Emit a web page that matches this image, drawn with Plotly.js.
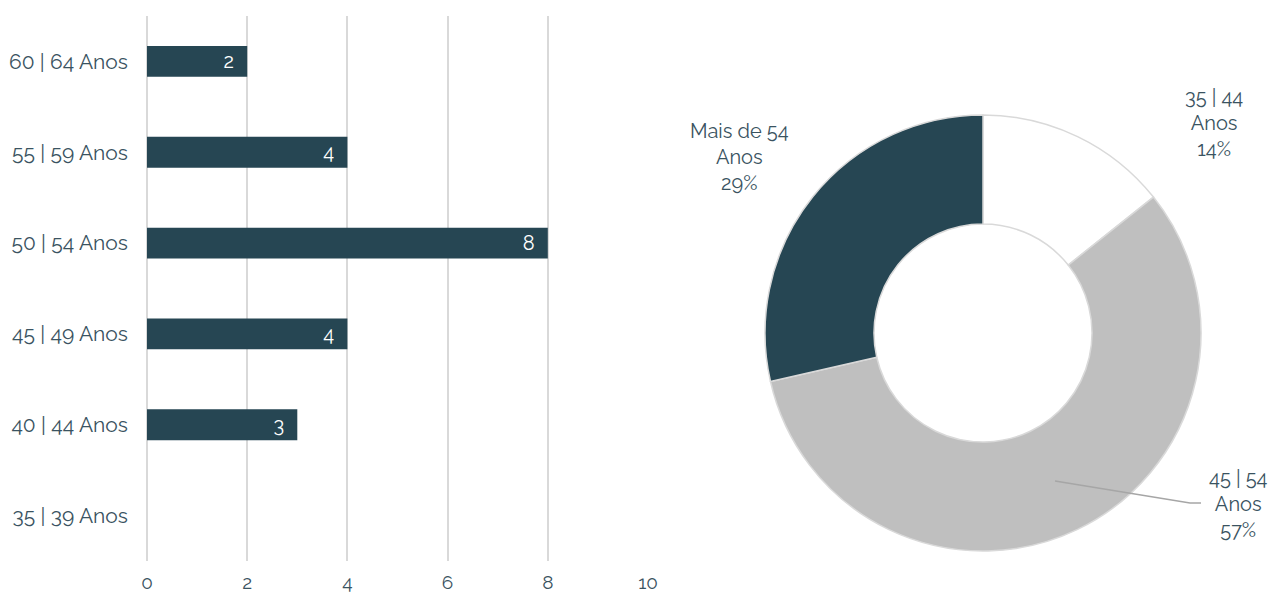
<!DOCTYPE html>
<html><head><meta charset="utf-8">
<script src="https://cdn.plot.ly/plotly-3.0.1.min.js"></script>
<style>html,body{margin:0;padding:0;background:#fff}#chart{width:1272px;height:595px}</style>
</head><body><div id="chart"></div>
<script>
const ageCategories = ['35 | 39 Anos','40 | 44 Anos','45 | 49 Anos','50 | 54 Anos','55 | 59 Anos','60 | 64 Anos'];
const ageCounts = [0, 3, 4, 8, 4, 2];
const xTicks = [0, 2, 4, 6, 8, 10];
const groupLabels = ['35 | 44<br>Anos', '45 | 54<br>Anos', 'Mais de 54<br>Anos'];
const groupValues = [3, 12, 6];

const W = 1272, H = 595;
const px = x => x / W, py = y => 1 - y / H;
const dark = '#264653', txt = '#3a5361', grid = '#d9d9d9';
const font = 'Raleway, Lato, "Open Sans", sans-serif';

const total = groupValues.reduce((a, b) => a + b, 0);
const pct = groupValues.map(v => Math.round(v / total * 100) + '%');

const bar = {
  type: 'bar', orientation: 'h', x: ageCounts, y: ageCategories,
  marker: {color: dark, line: {width: 0}}, width: 0.34,
  text: ageCounts.map(v => v > 0 ? String(v) + '\u00a0\u00a0' : ''), textposition: 'inside',
  insidetextanchor: 'end', textfont: {color: '#ffffff', size: 20, family: font},
  xaxis: 'x', yaxis: 'y', hoverinfo: 'none', cliponaxis: false
};
const pie = {
  type: 'pie', labels: groupLabels, values: groupValues, sort: false,
  direction: 'clockwise', rotation: 0, hole: 0.5,
  marker: {colors: ['#ffffff', '#bfbfbf', dark], line: {color: '#d9d9d9', width: 1.5}},
  textinfo: 'none', hoverinfo: 'none', showlegend: false,
  domain: {x: [px(765), px(1201)], y: [py(551), py(115)]}
};
const labelPos = [[1214, 123], [1238, 504], [739, 157]];
const annotations = groupLabels.map((l, i) => ({
  xref: 'paper', yref: 'paper', x: px(labelPos[i][0]), y: py(labelPos[i][1]),
  text: l + '<br>' + pct[i], showarrow: false, xanchor: 'center', yanchor: 'middle',
  font: {size: 20, color: txt, family: font}, align: 'center'
}));
const layout = {
  width: W, height: H, margin: {l: 0, r: 0, t: 0, b: 0},
  paper_bgcolor: '#fff', plot_bgcolor: '#fff', showlegend: false,
  font: {family: font, color: txt},
  xaxis: {domain: [px(147), px(648)], range: [0, 10], tickvals: xTicks, automargin: false,
    showgrid: true, gridcolor: grid, gridwidth: 2, zeroline: true, zerolinecolor: grid, zerolinewidth: 2,
    showline: false, ticks: '', tickfont: {size: 19, color: txt, family: font}, ticklabelstandoff: 8, fixedrange: true},
  yaxis: {domain: [py(561), py(16)], type: 'category', categoryorder: 'array', categoryarray: ageCategories,
    automargin: false, showgrid: false, zeroline: false, showline: false, ticks: '',
    tickfont: {size: 21, color: txt, family: font}, ticklabelstandoff: 18, fixedrange: true},
  annotations: annotations,
  shapes: [{type: 'path', xref: 'paper', yref: 'paper',
    path: `M ${px(1055)} ${py(481)} L ${px(1190)} ${py(503)} L ${px(1201)} ${py(503)}`,
    line: {color: '#a6a6a6', width: 1.5}}]
};
Plotly.newPlot('chart', [bar, pie], layout, {displayModeBar: false, staticPlot: true});
</script></body></html>
